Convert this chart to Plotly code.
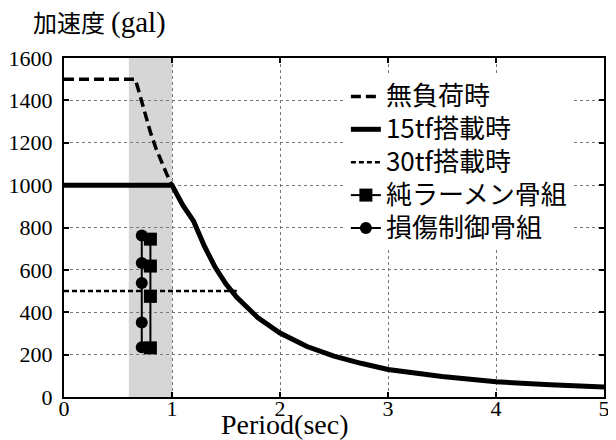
import plotly.graph_objects as go

# ---- data ----
period_15tf = [0.0, 1.0, 1.1, 1.2, 1.3, 1.4, 1.5, 1.6, 1.8, 2.0, 2.25, 2.5, 2.75, 3.0, 3.5, 4.0, 4.5, 5.0]
accel_15tf = [1000, 1000, 905, 830, 712, 612, 533, 470, 372, 302, 238, 193, 159, 130, 97, 72, 58, 47]

period_noload = [0.0, 0.66, 0.7, 0.75, 0.8, 0.85, 0.9, 0.95, 1.0]
accel_noload = [1500, 1500, 1430, 1333, 1250, 1176, 1111, 1053, 1000]

period_30tf = [0.0, 1.6]
accel_30tf = [500, 500]

period_frame = [0.80, 0.80, 0.80, 0.80]
accel_frame = [745, 618, 475, 232]

period_damage = [0.72, 0.72, 0.72, 0.72, 0.72]
accel_damage = [762, 632, 538, 352, 235]

band_period = [0.6, 1.0]

x_ticks = [0, 1, 2, 3, 4, 5]
y_ticks = [0, 200, 400, 600, 800, 1000, 1200, 1400, 1600]

names = ["無負荷時", "15tf搭載時", "30tf搭載時", "純ラーメン骨組", "損傷制御骨組"]
legend_names = [f"<span style='font-size:26px'>{n}</span>" for n in names]

fig = go.Figure()
fig.add_trace(go.Scatter(x=period_noload, y=accel_noload, mode="lines", name=legend_names[0],
                         line=dict(color="black", width=3.5, dash="10px,5px")))
fig.add_trace(go.Scatter(x=period_15tf, y=accel_15tf, mode="lines", name=legend_names[1],
                         line=dict(color="black", width=5)))
fig.add_trace(go.Scatter(x=period_30tf, y=accel_30tf, mode="lines", name=legend_names[2],
                         line=dict(color="black", width=2.5, dash="5px,3px")))
fig.add_trace(go.Scatter(x=period_frame, y=accel_frame, mode="lines+markers", name=legend_names[3],
                         line=dict(color="black", width=2),
                         marker=dict(symbol="square", size=13, color="black")))
fig.add_trace(go.Scatter(x=period_damage, y=accel_damage, mode="lines+markers", name=legend_names[4],
                         line=dict(color="black", width=2),
                         marker=dict(symbol="circle", size=12, color="black")))

fig.add_shape(type="rect", xref="x", yref="y", x0=band_period[0], x1=band_period[1],
              y0=0, y1=1600, fillcolor="#d6d6d6", line=dict(width=0), layer="below")

serif = "Liberation Serif, 'Noto Sans CJK JP'"
axis_common = dict(showline=True, linecolor="black", linewidth=2, mirror="ticks",
                   ticks="inside", ticklen=5, tickcolor="black", tickwidth=1.5,
                   showgrid=True, gridcolor="#777777", gridwidth=1, griddash="dot",
                   zeroline=False, automargin=False,
                   tickfont=dict(family=serif, size=22, color="black"))

fig.update_xaxes(range=[0, 5], tickvals=x_ticks, ticklabelstandoff=-9, **axis_common)
fig.update_yaxes(range=[0, 1600], tickvals=y_ticks, ticklabelstandoff=5, **axis_common)

fig.add_annotation(text="加速度 <span style='font-size:29px'>(gal)</span>",
                   xref="paper", yref="paper", x=-0.062, y=1.105,
                   xanchor="left", yanchor="middle", showarrow=False,
                   font=dict(family=serif, size=24, color="black"))
fig.add_annotation(text="Period(sec)", xref="x", yref="paper", x=2.05, y=-0.03,
                   xanchor="center", yanchor="top", showarrow=False,
                   font=dict(family=serif, size=28, color="black"))

# the page body adds an 8px offset, so margins are shifted to keep the plot at 64..604 x 58..397
fig.update_layout(
    width=616, height=440,
    margin=dict(l=56, r=20, t=50, b=51),
    paper_bgcolor="white", plot_bgcolor="white",
    showlegend=True,
    legend=dict(x=0.522, y=0.95, xanchor="left", yanchor="top",
                bgcolor="white", borderwidth=0, itemwidth=30, tracegroupgap=0,
                font=dict(family="'Noto Sans CJK JP'", size=23, color="black")),
)

fig.write_html("out.html")
